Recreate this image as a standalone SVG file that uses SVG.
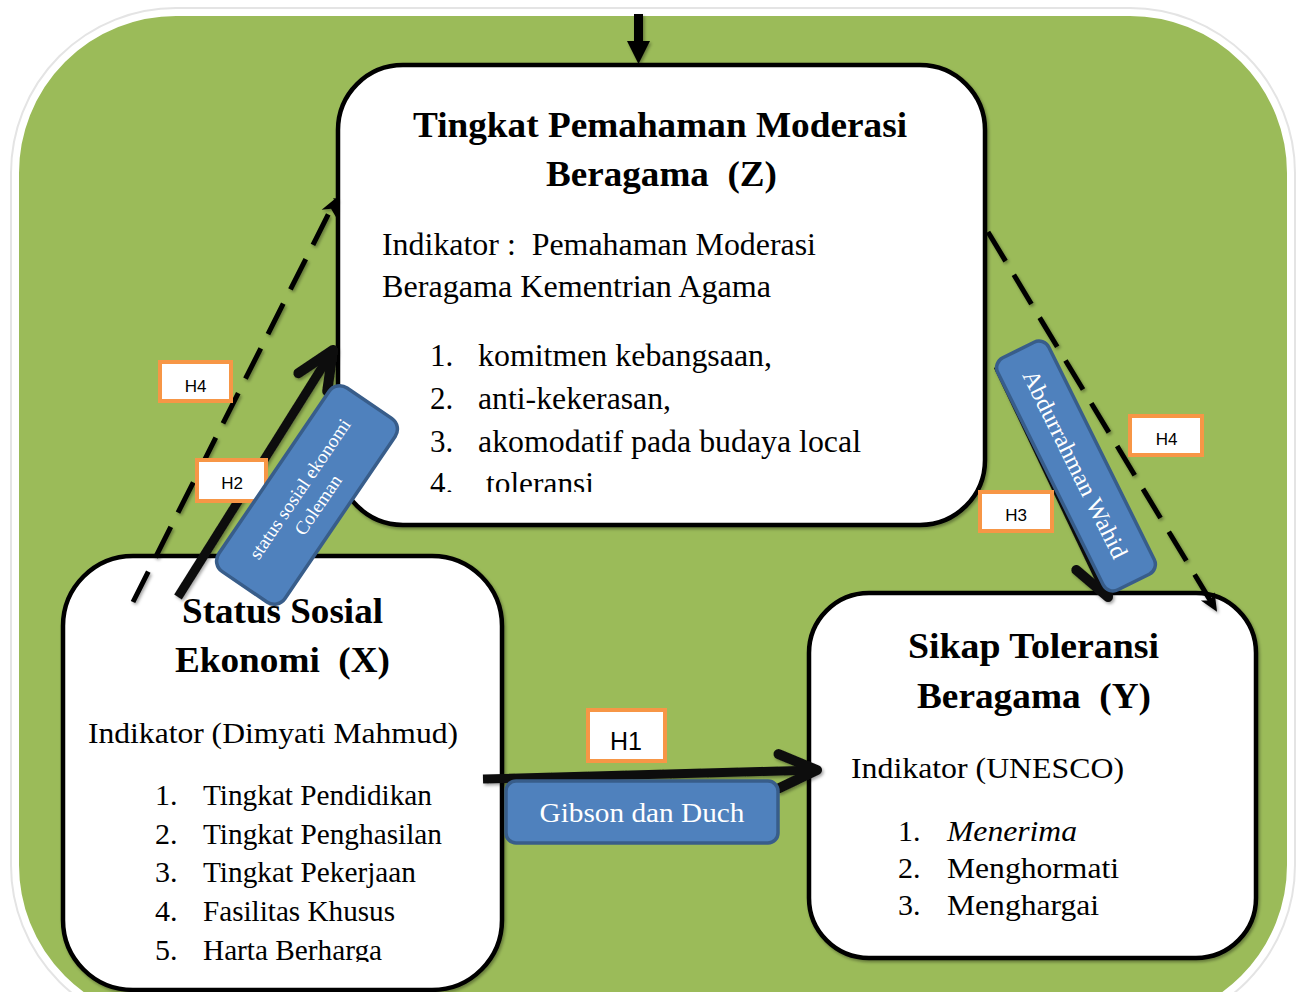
<svg xmlns="http://www.w3.org/2000/svg" width="1299" height="992" viewBox="0 0 1299 992">
<style>
.node rect.box{fill:#fff;stroke:#000;stroke-width:4.5}
.t{font-family:"Liberation Serif","Times New Roman",serif;fill:#000;white-space:pre}
.tb{font-weight:bold;font-size:35px;text-anchor:middle}
.tr{font-size:30px}
.tz{font-size:31px}
.hbox{fill:#fff;stroke:#F79646;stroke-width:4}
.ht{font-family:"Liberation Sans",Arial,sans-serif;font-size:17px;fill:#000;text-anchor:middle}
.blue{fill:#4F81BD;stroke:#385D8A;stroke-width:3.5}
.bt{font-family:"Liberation Serif","Times New Roman",serif;fill:#fff;text-anchor:middle}
.solid{fill:none;stroke:#111;stroke-width:9}
.dash{fill:none;stroke:#000;stroke-width:5;stroke-dasharray:34 16}
</style>
<defs>
<marker id="chev" markerUnits="userSpaceOnUse" markerWidth="80" markerHeight="60" refX="0" refY="0" orient="auto" overflow="visible">
<path d="M-38,-17 L0,0 L-38,17" fill="none" stroke="#111" stroke-width="10" stroke-linecap="round" stroke-linejoin="round"/>
</marker>
<marker id="small" markerUnits="userSpaceOnUse" markerWidth="40" markerHeight="30" refX="0" refY="0" orient="auto" overflow="visible">
<path d="M2,0 L-16,-8 L-11,0 L-16,8 Z" fill="#000"/>
</marker>
<filter id="sh" x="-10%" y="-10%" width="120%" height="120%">
<feDropShadow dx="1.5" dy="2" stdDeviation="1.5" flood-color="#000" flood-opacity="0.35"/>
</filter>
<clipPath id="clipZ"><rect x="330" y="55" width="670" height="437"/></clipPath>
<clipPath id="clipX"><rect x="55" y="550" width="460" height="412"/></clipPath>
</defs>
<rect x="0" y="0" width="1299" height="992" fill="#fff"/>
<g id="background">
<rect x="11" y="8" width="1284" height="1022" rx="165" fill="none" stroke="#e4e4e4" stroke-width="2"/>
<rect x="16" y="13" width="1274" height="1012" rx="160" fill="#9BBB59" stroke="#fff" stroke-width="6"/>
</g>
<g id="node-z" class="node">
<rect class="box" x="338" y="65" width="647" height="460" rx="65" filter="url(#sh)"/>
<text class="t tb" x="660" y="137" textLength="494" lengthAdjust="spacingAndGlyphs">Tingkat Pemahaman Moderasi</text>
<text class="t tb" x="661.5" y="186" textLength="231" lengthAdjust="spacingAndGlyphs" xml:space="preserve">Beragama  (Z)</text>
<text class="t tz" x="382" y="255" textLength="434" lengthAdjust="spacingAndGlyphs" xml:space="preserve">Indikator :  Pemahaman Moderasi</text>
<text class="t tz" x="382" y="297" textLength="389" lengthAdjust="spacingAndGlyphs">Beragama Kementrian Agama</text>
<g clip-path="url(#clipZ)">
<text class="t tz" x="430" y="366">1.</text><text class="t tz" x="478" y="366" textLength="294" lengthAdjust="spacingAndGlyphs">komitmen kebangsaan,</text>
<text class="t tz" x="430" y="409">2.</text><text class="t tz" x="478" y="409" textLength="193" lengthAdjust="spacingAndGlyphs">anti-kekerasan,</text>
<text class="t tz" x="430" y="452">3.</text><text class="t tz" x="478" y="452" textLength="383" lengthAdjust="spacingAndGlyphs">akomodatif pada budaya local</text>
<text class="t tz" x="430" y="494">4.</text><text class="t tz" x="486" y="494" textLength="108" lengthAdjust="spacingAndGlyphs">toleransi</text>
</g>
</g>
<g id="node-x" class="node">
<rect class="box" x="63" y="556" width="439" height="434" rx="70" filter="url(#sh)"/>
<text class="t tb" x="282.5" y="623" textLength="201" lengthAdjust="spacingAndGlyphs">Status Sosial</text>
<text class="t tb" x="282.5" y="672" textLength="215" lengthAdjust="spacingAndGlyphs" xml:space="preserve">Ekonomi  (X)</text>
<text class="t tr" x="88" y="743" textLength="370" lengthAdjust="spacingAndGlyphs">Indikator (Dimyati Mahmud)</text>
<g clip-path="url(#clipX)">
<text class="t tr" x="155" y="805">1.</text><text class="t tr" x="203" y="805" textLength="229" lengthAdjust="spacingAndGlyphs">Tingkat Pendidikan</text>
<text class="t tr" x="155" y="844">2.</text><text class="t tr" x="203" y="844" textLength="239" lengthAdjust="spacingAndGlyphs">Tingkat Penghasilan</text>
<text class="t tr" x="155" y="882">3.</text><text class="t tr" x="203" y="882" textLength="213" lengthAdjust="spacingAndGlyphs">Tingkat Pekerjaan</text>
<text class="t tr" x="155" y="921">4.</text><text class="t tr" x="203" y="921" textLength="192" lengthAdjust="spacingAndGlyphs">Fasilitas Khusus</text>
<text class="t tr" x="155" y="960">5.</text><text class="t tr" x="203" y="960" textLength="179" lengthAdjust="spacingAndGlyphs">Harta Berharga</text>
</g>
</g>
<g id="node-y" class="node">
<rect class="box" x="809" y="593" width="447" height="365" rx="60" filter="url(#sh)"/>
<text class="t tb" x="1033.5" y="658" textLength="251" lengthAdjust="spacingAndGlyphs">Sikap Toleransi</text>
<text class="t tb" x="1034" y="708" textLength="234" lengthAdjust="spacingAndGlyphs" xml:space="preserve">Beragama  (Y)</text>
<text class="t tr" x="851" y="778" textLength="273" lengthAdjust="spacingAndGlyphs">Indikator (UNESCO)</text>
<text class="t tr" x="898" y="841">1.</text><text class="t tr" x="947" y="841" font-style="italic" textLength="130" lengthAdjust="spacingAndGlyphs">Menerima</text>
<text class="t tr" x="898" y="878">2.</text><text class="t tr" x="947" y="878" textLength="172" lengthAdjust="spacingAndGlyphs">Menghormati</text>
<text class="t tr" x="898" y="915">3.</text><text class="t tr" x="947" y="915" textLength="152" lengthAdjust="spacingAndGlyphs">Menghargai</text>
</g>
<g id="connectors" filter="url(#sh)">
<line x1="638.5" y1="14" x2="638.5" y2="42" stroke="#000" stroke-width="9"/>
<path d="M627,41 L650,41 L638.5,64 Z" fill="#000"/>
<line class="dash" x1="133" y1="602" x2="336" y2="199" marker-end="url(#small)"/>
<line class="solid" x1="178" y1="597" x2="333" y2="350" marker-end="url(#chev)"/>
<line class="solid" x1="998" y1="366" x2="1108" y2="597" marker-end="url(#chev)"/>
<line class="dash" x1="988" y1="232" x2="1216" y2="610" marker-end="url(#small)"/>
<line class="solid" x1="483" y1="779" x2="817" y2="770" marker-end="url(#chev)"/>
</g>
<g id="label-h4-left"><rect class="hbox" x="160" y="362" width="71" height="39"/><text class="ht" x="195.5" y="392">H4</text></g>
<g id="label-h2"><rect class="hbox" x="197" y="460" width="69" height="41"/><text class="ht" x="232" y="489">H2</text></g>
<g id="label-h4-right"><rect class="hbox" x="1130" y="416" width="72" height="39"/><text class="ht" x="1166.5" y="445">H4</text></g>
<g id="label-h3"><rect class="hbox" x="980" y="492" width="72" height="39"/><text class="ht" x="1016" y="521">H3</text></g>
<g id="label-h1"><rect class="hbox" x="588" y="710" width="77" height="51"/><text class="ht" x="626" y="750" style="font-size:25px">H1</text></g>
<g id="theory-coleman" transform="translate(307,495) rotate(-55.8)">
<rect class="blue" x="-111" y="-40" width="222" height="80" rx="13"/>
<text class="bt" x="1" y="-3" font-size="19" textLength="165" lengthAdjust="spacingAndGlyphs">status sosial ekonomi</text>
<text class="bt" x="-2" y="21" font-size="19">Coleman</text>
</g>
<g id="theory-wahid" transform="translate(1076,466) rotate(63.6)">
<rect class="blue" x="-129.5" y="-28.5" width="259" height="57" rx="11"/>
<text class="bt" x="-2" y="8" font-size="24" textLength="207" lengthAdjust="spacingAndGlyphs">Abdurrahman Wahid</text>
</g>
<g id="theory-gibson">
<rect class="blue" x="506" y="781" width="272" height="62" rx="10"/>
<text class="bt" x="642" y="822" font-size="28" textLength="205" lengthAdjust="spacingAndGlyphs">Gibson dan Duch</text>
</g>
</svg>
